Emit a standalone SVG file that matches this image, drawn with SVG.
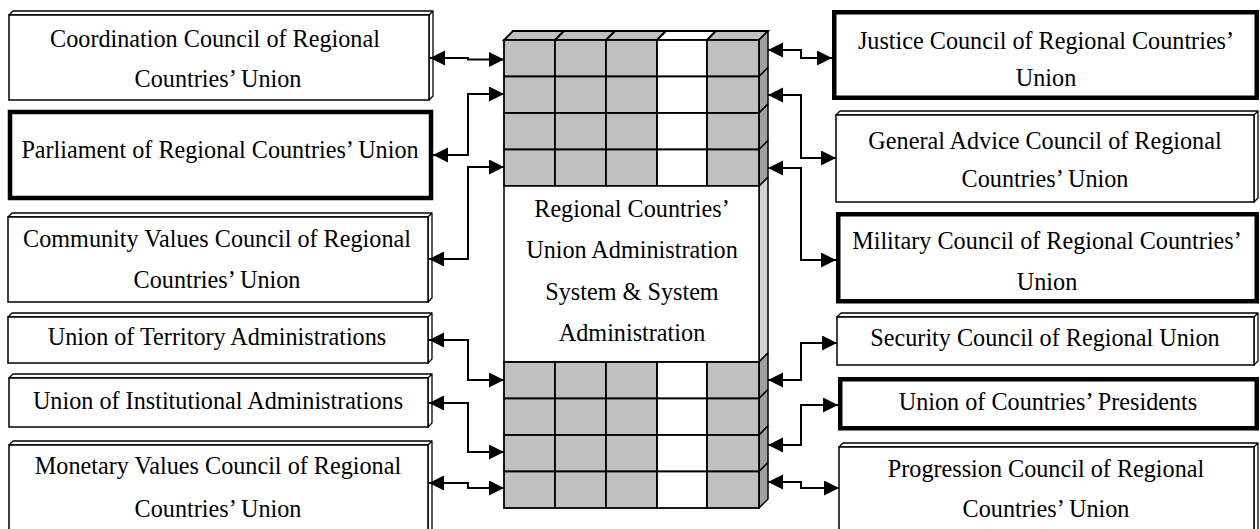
<svg xmlns="http://www.w3.org/2000/svg" width="1260" height="529" viewBox="0 0 1260 529">
<defs>
<style>
.t{font-family:"Liberation Serif","Times New Roman",serif;font-size:24.2px;text-anchor:middle;fill:#000}
.box{fill:#fff;stroke:#000;stroke-width:1.5}
.face{fill:#fff;stroke:#000;stroke-width:1.3;stroke-linejoin:round}
.thick{fill:#fff;stroke:#000;stroke-width:4.5}
.cell{fill:#c0c0c0;stroke:#000;stroke-width:1.8}
.wcell{fill:#fff;stroke:#000;stroke-width:1.8}
.side{fill:#a0a0a0;stroke:#000;stroke-width:1.5;stroke-linejoin:round}
.lside{fill:#d4d4d4;stroke:#000;stroke-width:1.5;stroke-linejoin:round}
.conn{fill:none;stroke:#000;stroke-width:2;marker-start:url(#ah);marker-end:url(#ah)}
</style>
<marker id="ah" markerUnits="userSpaceOnUse" markerWidth="16" markerHeight="16" refX="15" refY="7.5" orient="auto-start-reverse" viewBox="0 0 16 16">
<path d="M0,0 L15,7.5 L0,15 z" fill="#000"/>
</marker>
</defs>

<!-- central block -->
<g id="center">
<path class="cell" d="M504,40 L513,31 L564,31 L555,40 z"/>
<path class="cell" d="M555,40 L564,31 L615,31 L606,40 z"/>
<path class="cell" d="M606,40 L615,31 L666,31 L657,40 z"/>
<path class="wcell" d="M657,40 L666,31 L716,31 L707,40 z"/>
<path class="cell" d="M707,40 L716,31 L768,31 L759,40 z"/>
<path class="lside" d="M759,186 L768,177 L768,353 L759,362 z"/>
<path class="side" d="M759,40 L768,31 L768,67.5 L759,76.5 z"/>
<path class="side" d="M759,76.5 L768,67.5 L768,104 L759,113 z"/>
<path class="side" d="M759,113 L768,104 L768,140.5 L759,149.5 z"/>
<path class="side" d="M759,149.5 L768,140.5 L768,177 L759,186 z"/>
<path class="side" d="M759,362 L768,353 L768,389.5 L759,398.5 z"/>
<path class="side" d="M759,398.5 L768,389.5 L768,426 L759,435 z"/>
<path class="side" d="M759,435 L768,426 L768,462.5 L759,471.5 z"/>
<path class="side" d="M759,471.5 L768,462.5 L768,499 L759,508 z"/>
<g>
<rect class="cell" x="504" y="40" width="51" height="36.5"/><rect class="cell" x="555" y="40" width="51" height="36.5"/><rect class="cell" x="606" y="40" width="51" height="36.5"/><rect class="wcell" x="657" y="40" width="50" height="36.5"/><rect class="cell" x="707" y="40" width="52" height="36.5"/>
<rect class="cell" x="504" y="76.5" width="51" height="36.5"/><rect class="cell" x="555" y="76.5" width="51" height="36.5"/><rect class="cell" x="606" y="76.5" width="51" height="36.5"/><rect class="wcell" x="657" y="76.5" width="50" height="36.5"/><rect class="cell" x="707" y="76.5" width="52" height="36.5"/>
<rect class="cell" x="504" y="113" width="51" height="36.5"/><rect class="cell" x="555" y="113" width="51" height="36.5"/><rect class="cell" x="606" y="113" width="51" height="36.5"/><rect class="wcell" x="657" y="113" width="50" height="36.5"/><rect class="cell" x="707" y="113" width="52" height="36.5"/>
<rect class="cell" x="504" y="149.5" width="51" height="36.5"/><rect class="cell" x="555" y="149.5" width="51" height="36.5"/><rect class="cell" x="606" y="149.5" width="51" height="36.5"/><rect class="wcell" x="657" y="149.5" width="50" height="36.5"/><rect class="cell" x="707" y="149.5" width="52" height="36.5"/>
</g>
<rect class="box" x="504" y="186" width="255" height="176"/>
<g>
<rect class="cell" x="504" y="362" width="51" height="36.5"/><rect class="cell" x="555" y="362" width="51" height="36.5"/><rect class="cell" x="606" y="362" width="51" height="36.5"/><rect class="wcell" x="657" y="362" width="50" height="36.5"/><rect class="cell" x="707" y="362" width="52" height="36.5"/>
<rect class="cell" x="504" y="398.5" width="51" height="36.5"/><rect class="cell" x="555" y="398.5" width="51" height="36.5"/><rect class="cell" x="606" y="398.5" width="51" height="36.5"/><rect class="wcell" x="657" y="398.5" width="50" height="36.5"/><rect class="cell" x="707" y="398.5" width="52" height="36.5"/>
<rect class="cell" x="504" y="435" width="51" height="36.5"/><rect class="cell" x="555" y="435" width="51" height="36.5"/><rect class="cell" x="606" y="435" width="51" height="36.5"/><rect class="wcell" x="657" y="435" width="50" height="36.5"/><rect class="cell" x="707" y="435" width="52" height="36.5"/>
<rect class="cell" x="504" y="471.5" width="51" height="36.5"/><rect class="cell" x="555" y="471.5" width="51" height="36.5"/><rect class="cell" x="606" y="471.5" width="51" height="36.5"/><rect class="wcell" x="657" y="471.5" width="50" height="36.5"/><rect class="cell" x="707" y="471.5" width="52" height="36.5"/>
</g>
<text class="t" x="632" y="217">Regional Countries’</text>
<text class="t" x="632" y="258">Union Administration</text>
<text class="t" x="632" y="300">System &amp; System</text>
<text class="t" x="632" y="341">Administration</text>
</g>

<!-- left nodes -->
<g id="coordination">
<path class="face" d="M9,15 L13,11 L433,11 L429,15 z M429,15 L433,11 L433,96 L429,100 z"/>
<rect class="box" x="9" y="15" width="420" height="85"/>
<text class="t" x="215" y="47">Coordination Council of Regional</text>
<text class="t" x="218" y="87">Countries’ Union</text>
</g>
<g id="parliament">
<rect class="thick" x="10" y="112" width="421" height="86"/>
<text class="t" x="220" y="158">Parliament of Regional Countries’ Union</text>
</g>
<g id="community">
<path class="face" d="M8,217 L12,213 L432,213 L428,217 z M428,217 L432,213 L432,298 L428,302 z"/>
<rect class="box" x="8" y="217" width="420" height="85"/>
<text class="t" x="217" y="247">Community Values Council of Regional</text>
<text class="t" x="217" y="288">Countries’ Union</text>
</g>
<g id="territory">
<path class="face" d="M8,317 L12,313 L432,313 L428,317 z M428,317 L432,313 L432,359 L428,363 z"/>
<rect class="box" x="8" y="317" width="420" height="46"/>
<text class="t" x="217" y="345">Union of Territory Administrations</text>
</g>
<g id="institutional">
<path class="face" d="M9,378 L13,374 L432,374 L428,378 z M428,378 L432,374 L432,423 L428,427 z"/>
<rect class="box" x="9" y="378" width="419" height="49"/>
<text class="t" x="218" y="408.5">Union of Institutional Administrations</text>
</g>
<g id="monetary">
<path class="face" d="M9,445 L13,441 L432,441 L428,445 z M428,445 L432,441 L432,536 L428,540 z"/>
<rect class="box" x="9" y="445" width="419" height="95"/>
<text class="t" x="218" y="474">Monetary Values Council of Regional</text>
<text class="t" x="218" y="516.5">Countries’ Union</text>
</g>

<!-- right nodes -->
<g id="justice">
<rect class="thick" x="834.25" y="12.25" width="422.5" height="85.5"/>
<text class="t" x="1046" y="49">Justice Council of Regional Countries’</text>
<text class="t" x="1046" y="86">Union</text>
</g>
<g id="general-advice">
<path class="face" d="M836,115 L840,111 L1258,111 L1254,115 z M1254,115 L1258,111 L1258,198 L1254,202 z"/>
<rect class="box" x="836" y="115" width="418" height="87"/>
<text class="t" x="1045" y="148.5">General Advice Council of Regional</text>
<text class="t" x="1045" y="187">Countries’ Union</text>
</g>
<g id="military">
<rect class="thick" x="838.25" y="214.25" width="418.5" height="87"/>
<text class="t" x="1047" y="248.5">Military Council of Regional Countries’</text>
<text class="t" x="1047" y="289.5">Union</text>
</g>
<g id="security">
<path class="face" d="M837,317 L841,313 L1258,313 L1254,317 z M1254,317 L1258,313 L1258,361 L1254,365 z"/>
<rect class="box" x="837" y="317" width="417" height="48"/>
<text class="t" x="1045" y="346">Security Council of Regional Union</text>
</g>
<g id="presidents">
<rect class="thick" x="840.25" y="379.25" width="416.5" height="49"/>
<text class="t" x="1048" y="410">Union of Countries’ Presidents</text>
</g>
<g id="progression">
<path class="face" d="M839,447 L843,443 L1258,443 L1254,447 z M1254,447 L1258,443 L1258,536 L1254,540 z"/>
<rect class="box" x="839" y="447" width="415" height="93"/>
<text class="t" x="1046" y="476.5">Progression Council of Regional</text>
<text class="t" x="1046" y="516.5">Countries’ Union</text>
</g>

<!-- connectors -->
<g id="connectors">
<path class="conn" d="M430,58 H468 V59.5 H504"/>
<path class="conn" d="M433,155 H468 V94 H504"/>
<path class="conn" d="M429,259 H468 V167 H504"/>
<path class="conn" d="M429,340 H468 V380 H504"/>
<path class="conn" d="M429,403 H468 V452 H504"/>
<path class="conn" d="M429,483 H468 V488 H504"/>
<path class="conn" d="M768,50 H801 V58 H832"/>
<path class="conn" d="M768,95 H801 V158 H836"/>
<path class="conn" d="M768,168 H801 V260 H836"/>
<path class="conn" d="M768,380 H801 V343 H837"/>
<path class="conn" d="M768,445 H801 V405 H838"/>
<path class="conn" d="M768,482 H801 V488 H839"/>
</g>
</svg>
